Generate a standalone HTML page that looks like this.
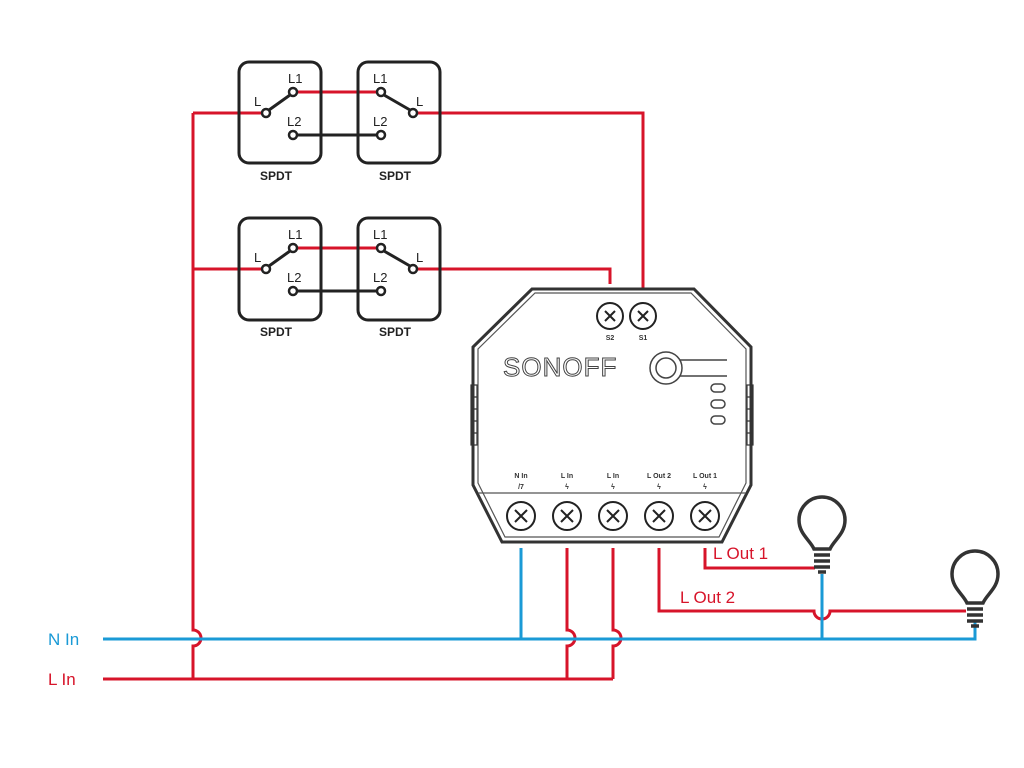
<!DOCTYPE html>
<html><head><meta charset="utf-8"><style>
html,body{margin:0;padding:0;background:#fff;width:1024px;height:768px;overflow:hidden}
svg{display:block}
text{font-family:"Liberation Sans",Arial,sans-serif}
</style></head><body>
<svg width="1024" height="768" viewBox="0 0 1024 768" xmlns="http://www.w3.org/2000/svg">
<g fill="none" stroke-linecap="butt">
<g stroke="#d7142a" stroke-width="3">
<path d="M193 113 H266 M293 92 H381 M413 113 H643 V290"/>
<path d="M193 269 H266 M293 248 H381 M413 269 H610 V284"/>
<path d="M193 113 V630 A8 8 0 0 1 193 646 V679"/>
<path d="M103 679 H613"/>
<path d="M567 548 V630 A8 8 0 0 1 567 646 V679"/>
<path d="M613 548 V630 A8 8 0 0 1 613 646 V679"/>
<path d="M659 548 V611 H814 A8 8 0 0 0 830 611 H966"/>
<path d="M705 548 V568 H815"/>
</g>
<g stroke="#1a9ad6" stroke-width="3">
<path d="M103 639 H975 V620"/>
<path d="M521 548 V639"/>
<path d="M822 574 V639"/>
</g>
<g stroke="#222" stroke-width="3">
<rect x="239" y="62" width="82" height="101" rx="10"/>
<rect x="358" y="62" width="82" height="101" rx="10"/>
<rect x="239" y="218" width="82" height="102" rx="10"/>
<rect x="358" y="218" width="82" height="102" rx="10"/>
<path d="M269 110 L290 95 M384 95 L410 110 M293 135 H381"/>
<path d="M269 266 L290 251 M384 251 L410 266 M293 291 H381"/>
</g>
<g stroke="#222" stroke-width="2.5" fill="#fff">
<circle cx="266" cy="113" r="4"/><circle cx="293" cy="92" r="4"/><circle cx="293" cy="135" r="4"/>
<circle cx="381" cy="92" r="4"/><circle cx="413" cy="113" r="4"/><circle cx="381" cy="135" r="4"/>
<circle cx="266" cy="269" r="4"/><circle cx="293" cy="248" r="4"/><circle cx="293" cy="291" r="4"/>
<circle cx="381" cy="248" r="4"/><circle cx="413" cy="269" r="4"/><circle cx="381" cy="291" r="4"/>
</g>
<path d="M532 289 H694 L751 347 V485 L722 542 H502 L473 485 V347 Z" stroke="#333" stroke-width="3" fill="#fff"/>
<path d="M535 293 H691 L746 349 V483 L719 537 H505 L478 483 V349 Z" stroke="#555" stroke-width="1.2"/>
<path d="M478 493 H746" stroke="#555" stroke-width="1.2"/>
<g stroke="#333" stroke-width="1.2">
<rect x="471" y="385" width="6" height="60"/><rect x="747" y="385" width="6" height="60"/>
<path d="M471 397 H477 M471 409 H477 M471 421 H477 M471 433 H477 M747 397 H753 M747 409 H753 M747 421 H753 M747 433 H753"/>
</g>
<g stroke="#222" stroke-width="2">
<circle cx="610" cy="316" r="13"/><circle cx="643" cy="316" r="13"/>
<path d="M605 311 l10 10 M615 311 l-10 10 M638 311 l10 10 M648 311 l-10 10"/>
<circle cx="521" cy="516" r="14"/><circle cx="567" cy="516" r="14"/><circle cx="613" cy="516" r="14"/><circle cx="659" cy="516" r="14"/><circle cx="705" cy="516" r="14"/>
<path d="M515 510 l12 12 M527 510 l-12 12 M561 510 l12 12 M573 510 l-12 12 M607 510 l12 12 M619 510 l-12 12 M653 510 l12 12 M665 510 l-12 12 M699 510 l12 12 M711 510 l-12 12"/>
</g>
<g stroke="#444" stroke-width="1.5">
<circle cx="666" cy="368" r="16"/><circle cx="666" cy="368" r="10"/>
<path d="M680 360 H727 M680 376 H727"/>
<rect x="711" y="384" width="14" height="8" rx="4"/><rect x="711" y="400" width="14" height="8" rx="4"/><rect x="711" y="416" width="14" height="8" rx="4"/>
</g>
<g stroke="#333" stroke-width="3.5">
<path d="M814 549 C810 540 799 534 799 520 A23 23 0 0 1 845 520 C845 534 834 540 830 549 Z"/>
<path d="M967 603 C963 594 952 588 952 574 A23 23 0 0 1 998 574 C998 588 987 594 983 603 Z"/>
<path d="M814 555 H830 M814 561 H830 M814 567 H830 M818 572 H826"/>
<path d="M967 609 H983 M967 615 H983 M967 621 H983 M971 626 H979"/>
</g>
</g>
<g fill="#222" font-size="13">
<text x="288" y="83">L1</text><text x="254" y="106">L</text><text x="287" y="126">L2</text>
<text x="373" y="83">L1</text><text x="416" y="106">L</text><text x="373" y="126">L2</text>
<text x="288" y="239">L1</text><text x="254" y="262">L</text><text x="287" y="282">L2</text>
<text x="373" y="239">L1</text><text x="416" y="262">L</text><text x="373" y="282">L2</text>
</g>
<g fill="#222" font-size="12" font-weight="bold">
<text x="260" y="180">SPDT</text><text x="379" y="180">SPDT</text>
<text x="260" y="336">SPDT</text><text x="379" y="336">SPDT</text>
</g>
<g fill="#333" font-size="7" font-weight="bold" text-anchor="middle">
<text x="610" y="340">S2</text><text x="643" y="340">S1</text>
<text x="521" y="478">N In</text><text x="567" y="478">L In</text><text x="613" y="478">L In</text><text x="659" y="478">L Out 2</text><text x="705" y="478">L Out 1</text>
<text x="521" y="489">/7</text><text x="567" y="489">ϟ</text><text x="613" y="489">ϟ</text><text x="659" y="489">ϟ</text><text x="705" y="489">ϟ</text>
</g>
<text x="503" y="376" font-size="26" fill="#fff" stroke="#444" stroke-width="1" letter-spacing="1">SONOFF</text>
<g font-size="17">
<text x="48" y="645" fill="#1a9ad6">N In</text>
<text x="48" y="685" fill="#d7142a">L In</text>
<text x="713" y="559" fill="#d7142a">L Out 1</text>
<text x="680" y="603" fill="#d7142a">L Out 2</text>
</g>
</svg>
</body></html>
